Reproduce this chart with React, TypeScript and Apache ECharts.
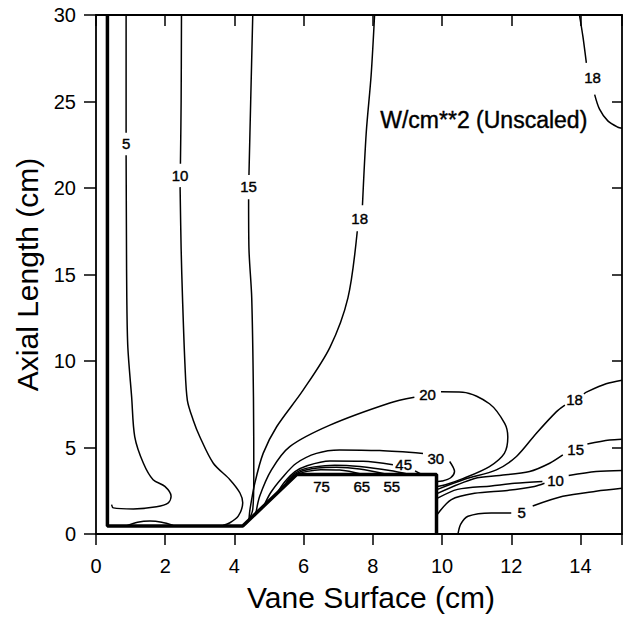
import React, { useEffect, useRef } from 'react';
import * as echarts from 'echarts';

// Axis setup (cm)
const X_MAX = 15.2;
const Y_MAX = 30;
const xTickLabels = [0, 2, 4, 6, 8, 10, 12, 14];
const yTickLabels = [0, 5, 10, 15, 20, 25, 30];

// Vane surface outline (thick line)
const vane = [[0.33, 30], [0.33, 0.46], [4.24, 0.46], [5.8, 3.44], [9.84, 3.44], [9.84, 0]];

// Contour lines (W/cm**2), split where labels sit
const c5Left = [
  [[0.87, 30], [0.87, 23.2]],
  [[0.87, 21.9], [0.88, 17], [0.89, 13.65], [0.92, 10.79], [1.03, 7.92], [1.12, 5.62], [1.37, 4.09], [1.65, 3.14], [1.99, 2.75], [2.17, 2.18], [2.09, 1.8], [1.75, 1.57], [1.08, 1.45], [0.5, 1.51], [0.45, 1.7]],
];
const c10Left = [
  [[2.47, 30], [2.46, 25], [2.44, 21.4]],
  [[2.43, 20.05], [2.46, 16.5], [2.5, 13.65], [2.57, 9.83], [2.64, 7.73], [2.81, 6.58], [3.0, 5.62], [3.39, 4.09], [3.87, 3.14], [4.16, 2.37], [4.24, 1.8], [4.11, 1.03], [3.87, 0.65], [3.67, 0.5]],
];
const c10Arch = [[[0.89, 0.48], [1.2, 0.68], [1.56, 0.75], [1.9, 0.68], [2.23, 0.5]]];
const c15Left = [
  [[4.53, 30], [4.47, 25], [4.42, 20.75]],
  [[4.41, 19.35], [4.42, 16.5], [4.5, 13.65], [4.55, 7.92], [4.56, 3.33], [4.53, 1.43], [4.38, 0.7], [4.26, 0.5]],
];
const c18Mid = [
  [[8.05, 30], [7.95, 26.5], [7.81, 23.22], [7.7, 19.0]],
  [[7.55, 17.5], [7.28, 13.65], [6.76, 10.79], [5.98, 8.3], [5.22, 6.2], [4.83, 4.66], [4.59, 2.94], [4.45, 1.42], [4.42, 0.83]],
];
const c20 = [
  [[4.62, 1.18], [4.73, 2.18], [5.07, 3.71], [5.6, 5.05], [6.76, 6.29], [8.49, 7.57], [9.2, 7.9]],
  [[9.97, 8.22], [10.6, 8.2], [11.37, 7.53], [11.81, 6.39], [11.9, 5.6], [11.8, 4.66], [11.37, 3.9], [10.6, 3.2], [10.1, 2.85], [9.87, 2.75]],
];
const c30 = [
  [[4.85, 1.62], [5.05, 2.4], [5.4, 3.3], [5.79, 4.09], [6.37, 4.66], [7.04, 4.86], [8.2, 4.82], [9.45, 4.66]],
  [[10.22, 4.19], [10.36, 3.61], [10.25, 3.25], [10.0, 3.06], [9.87, 3.04]],
];
const c45 = [
  [[5.22, 2.32], [5.45, 3.0], [5.75, 3.6], [6.1, 3.95], [6.76, 4.22], [7.72, 4.2], [8.58, 4.0]],
  [[9.22, 3.65], [9.41, 3.44]],
];
const c55 = [[[5.4, 2.66], [5.62, 3.3], [5.9, 3.68], [6.3, 3.88], [6.9, 3.98], [7.62, 3.9], [8.49, 3.67], [9.06, 3.44]]];
const c65 = [[[5.49, 2.83], [5.7, 3.35], [5.98, 3.66], [6.4, 3.82], [6.95, 3.86], [7.62, 3.76], [8.43, 3.44]]];
const c75 = [[[5.6, 3.04], [5.8, 3.42], [6.1, 3.62], [6.5, 3.72], [7.04, 3.7], [7.72, 3.44]]];
const c18Right = [
  [[9.87, 2.58], [10.65, 3.16], [11.57, 3.71], [12.15, 4.48], [12.72, 5.81], [13.3, 7.06], [13.55, 7.45]],
  [[14.1, 8.1], [14.17, 8.2], [14.74, 8.68], [15.2, 8.89]],
];
const c15Right = [
  [[9.87, 2.35], [10.94, 3.21], [11.66, 3.38], [12.53, 3.61], [13.11, 4.09], [13.49, 4.57]],
  [[14.2, 5.2], [14.84, 5.43], [15.2, 5.48]],
];
const c10Right = [
  [[9.87, 2.07], [10.45, 2.58], [11.42, 2.78], [12.1, 2.93], [12.9, 3.04]],
  [[13.66, 3.38], [14.45, 3.61], [15.2, 3.67]],
];
const c10RightB = [[[9.87, 1.15], [10.27, 1.99], [10.94, 2.35], [11.89, 2.52], [12.67, 2.75], [12.96, 2.93]]];
const c5Right = [
  [[10.46, 0], [10.54, 0.57], [10.75, 1.03], [11.42, 1.22], [12.0, 1.22]],
  [[12.62, 1.62], [13.49, 2.18], [14.45, 2.47], [15.2, 2.64]],
];
const c18TopRight = [
  [[13.97, 30], [14.07, 28.76], [14.17, 27.23]],
  [[14.41, 25.4], [14.55, 24.56], [14.79, 23.88], [15.08, 23.51], [15.2, 23.45]],
];

const contourSets = [c5Left, c10Left, c10Arch, c15Left, c18Mid, c20, c30, c45, c55, c65, c75,
  c18Right, c15Right, c10Right, c10RightB, c5Right, c18TopRight];

// Contour label positions [x, y, text]
const contourLabels: [number, number, string][] = [
  [0.87, 22.55, '5'], [2.43, 20.73, '10'], [4.41, 20.06, '15'], [7.62, 18.24, '18'],
  [9.58, 8.09, '20'], [9.82, 4.36, '30'], [8.89, 4.02, '45'],
  [6.52, 2.75, '75'], [7.68, 2.75, '65'], [8.55, 2.75, '55'],
  [13.83, 7.75, '18'], [13.86, 4.88, '15'], [13.28, 3.1, '10'], [12.3, 1.26, '5'],
  [14.35, 26.39, '18'],
];
const annotation: [number, number, string] = [8.2, 23.92, 'W/cm**2 (Unscaled)'];

const FONT = '"Liberation Sans", Arial, Helvetica, sans-serif';

export default function App() {
  const ref = useRef<HTMLDivElement>(null);
  useEffect(() => {
    if (!ref.current) return;
    const chart = echarts.init(ref.current, undefined, { renderer: 'svg' });
    const lineSeries: any[] = [];
    contourSets.forEach((set) => {
      set.forEach((seg) => {
        lineSeries.push({
          type: 'line', data: seg, symbol: 'none', smooth: 0.3, silent: true,
          lineStyle: { color: '#000', width: 1.5 }, z: 3, xAxisIndex: 0, yAxisIndex: 0,
        });
      });
    });
    lineSeries.push({
      type: 'line', data: vane, symbol: 'none', smooth: false, silent: true,
      lineStyle: { color: '#000', width: 3.5 }, z: 4,
    });
    lineSeries.push({
      type: 'scatter', symbolSize: 1, silent: true, z: 5,
      itemStyle: { color: 'rgba(0,0,0,0)' },
      data: contourLabels.map(([x, y, t]) => ({ value: [x, y], label: { formatter: t } })),
      label: {
        show: true, position: 'inside', color: '#000', fontSize: 15, fontFamily: FONT,
        opacity: 1, textBorderColor: '#000', textBorderWidth: 0.4,
      },
    });
    lineSeries.push({
      type: 'scatter', symbolSize: 1, silent: true, z: 5,
      itemStyle: { color: 'rgba(0,0,0,0)' },
      data: [{ value: [annotation[0], annotation[1]], label: { formatter: annotation[2] } }],
      label: {
        show: true, position: 'right', distance: 0, color: '#000', fontSize: 23, fontFamily: FONT,
        opacity: 1, textBorderColor: '#000', textBorderWidth: 0.4,
      },
    });

    const axisLine = { show: true, onZero: false, lineStyle: { color: '#000', width: 1.8 } };
    chart.setOption({
      animation: false,
      backgroundColor: '#fff',
      grid: { left: 96, top: 15, width: 526, height: 523 },
      xAxis: [
        {
          type: 'value', min: 0, max: X_MAX, interval: 2, position: 'bottom',
          axisLine, splitLine: { show: false },
          axisTick: { show: true, inside: false, length: 11, lineStyle: { color: '#000', width: 1.5 } },
          axisLabel: {
            show: true, margin: 22, fontSize: 20, color: '#000', fontFamily: FONT,
            formatter: (v: number) => (xTickLabels.indexOf(v) >= 0 ? String(v) : ''),
          },
          name: 'Vane Surface (cm)', nameLocation: 'middle', nameGap: 48,
          nameTextStyle: { fontSize: 30, color: '#000', fontFamily: FONT, padding: [0, 0, 0, 24] },
        },
        {
          type: 'value', min: 0, max: X_MAX, interval: 2, position: 'top',
          axisLine, splitLine: { show: false },
          axisTick: { show: true, inside: true, length: 11, lineStyle: { color: '#000', width: 1.5 } },
          axisLabel: { show: false },
        },
      ],
      yAxis: [
        {
          type: 'value', min: 0, max: Y_MAX, interval: 5, position: 'left',
          axisLine, splitLine: { show: false },
          axisTick: { show: true, inside: false, length: 12, lineStyle: { color: '#000', width: 1.5 } },
          axisLabel: {
            show: true, margin: 20, fontSize: 20, color: '#000', fontFamily: FONT,
            formatter: (v: number) => (yTickLabels.indexOf(v) >= 0 ? String(v) : ''),
          },
          name: 'Axial Length (cm)', nameLocation: 'middle', nameGap: 52,
          nameTextStyle: { fontSize: 30, color: '#000', fontFamily: FONT },
        },
        {
          type: 'value', min: 0, max: Y_MAX, interval: 5, position: 'right',
          axisLine, splitLine: { show: false },
          axisTick: { show: true, inside: true, length: 10, lineStyle: { color: '#000', width: 1.5 } },
          axisLabel: { show: false },
        },
      ],
      series: lineSeries,
    });
    return () => chart.dispose();
  }, []);
  return <div ref={ref} style={{ position: 'absolute', left: 0, top: 0, width: 626, height: 617 }} />;
}
